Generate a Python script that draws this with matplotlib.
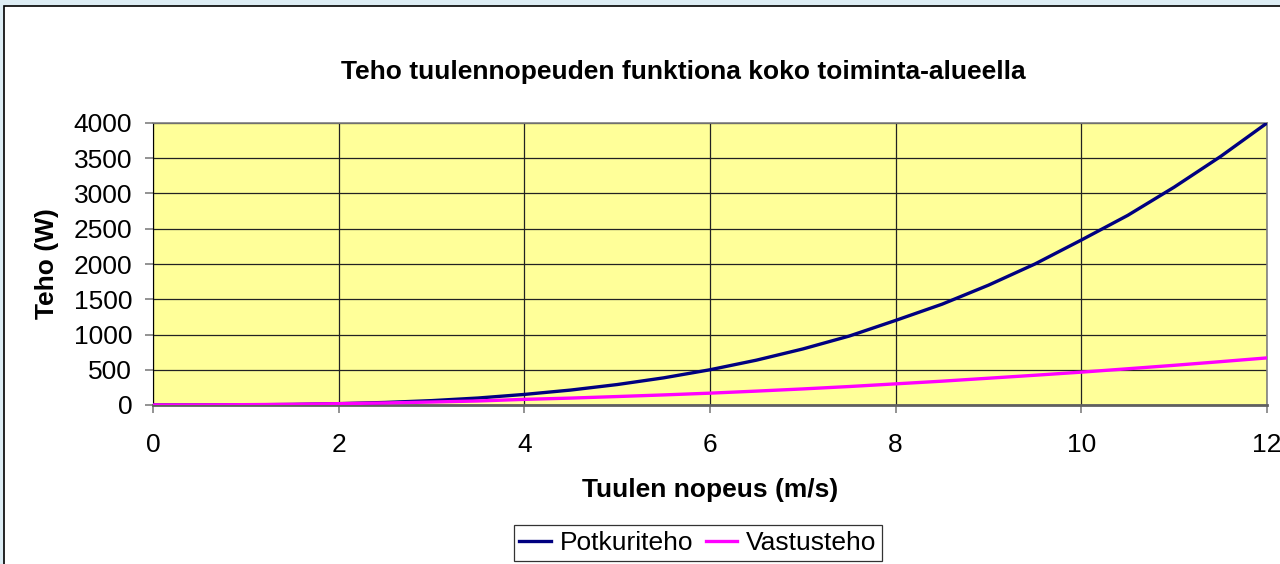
import numpy as np
from matplotlib import pyplot as plt
from matplotlib.patches import Rectangle

# wind speed (m/s) and power values (W)
nopeus = [0, 0.5, 1, 1.5, 2, 2.5, 3, 3.5, 4, 4.5, 5, 5.5, 6, 6.5, 7, 7.5, 8,
          8.5, 9, 9.5, 10, 10.5, 11, 11.5, 12]
potkuriteho = [0, 0, 2, 8, 19, 36, 62, 99, 150, 212, 290, 385, 500, 636, 795,
               978, 1200, 1430, 1700, 2000, 2340, 2690, 3090, 3525, 4000]
vastusteho = [0, 1, 5, 10, 19, 29, 42, 57, 80, 98, 120, 143, 168, 197, 228,
              262, 300, 338, 380, 422, 466, 514, 563, 615, 668]

x_ticks = [0, 2, 4, 6, 8, 10, 12]
y_ticks = list(range(0, 4001, 500))

W, H = 1280, 564
fig = plt.figure(figsize=(W / 100, H / 100), dpi=100)
fig.patch.set_facecolor('#DDEDF4')
plt.rcParams['font.family'] = ['Liberation Sans', 'DejaVu Sans']

# white chart area with black border
fig.patches.append(Rectangle((4 / W, -0.1), 1.2, 1 - 6 / H + 0.1,
                             transform=fig.transFigure, facecolor='white',
                             edgecolor='black', linewidth=1.2, zorder=-10))

ax = fig.add_axes([153 / W, (H - 405) / H, (1267 - 153) / W, (405 - 123) / H])
ax.set_facecolor('#FFFF99')

l1, = ax.plot(nopeus, potkuriteho, color='#000080', linewidth=2.4,
              label='Potkuriteho', zorder=3)
l2, = ax.plot(nopeus, vastusteho, color='#FF00FF', linewidth=2.4,
              label='Vastusteho', zorder=3)

ax.set_xlim(0, 12)
ax.set_ylim(0, 4000)
ax.set_xticks(x_ticks)
ax.set_yticks(y_ticks)
ax.grid(True, color='#222222', linewidth=0.9)
ax.set_axisbelow(True)
ax.tick_params(axis='both', direction='out', length=6, width=1.2,
               color='#808080', labelsize=19)
ax.tick_params(axis='x', pad=14)
ax.tick_params(axis='y', pad=9)
for side in ['top', 'right']:
    ax.spines[side].set_color('#808080')
    ax.spines[side].set_linewidth(1.2)
ax.spines['left'].set_color('black')
ax.spines['bottom'].set_color('#606060')
ax.spines['bottom'].set_linewidth(2)

ax.set_xlabel('Tuulen nopeus (m/s)', fontsize=19, fontweight='bold')
ax.set_ylabel('Teho (W)', fontsize=19, fontweight='bold')
ax.xaxis.set_label_coords(0.5, (405 - 490) / 282)
ax.yaxis.set_label_coords((47 - 153) / 1114, 0.5)
ax.xaxis.label.set_va('center')
ax.yaxis.label.set_va('center')
fig.text(683 / W, 1 - 72 / H, 'Teho tuulennopeuden funktiona koko toiminta-alueella',
         ha='center', va='center', fontsize=19, fontweight='bold')

leg = fig.legend(handles=[l1, l2], loc='center',
                 bbox_to_anchor=(698 / W, 1 - 543 / H), ncol=2,
                 fontsize=19, frameon=True, fancybox=False, handlelength=1.2,
                 handletextpad=0.34, columnspacing=0.45, borderpad=0.22,
                 borderaxespad=0)
leg.get_frame().set_edgecolor('black')
leg.get_frame().set_linewidth(0.9)

fig.savefig('out.png', dpi=100, facecolor=fig.get_facecolor())
